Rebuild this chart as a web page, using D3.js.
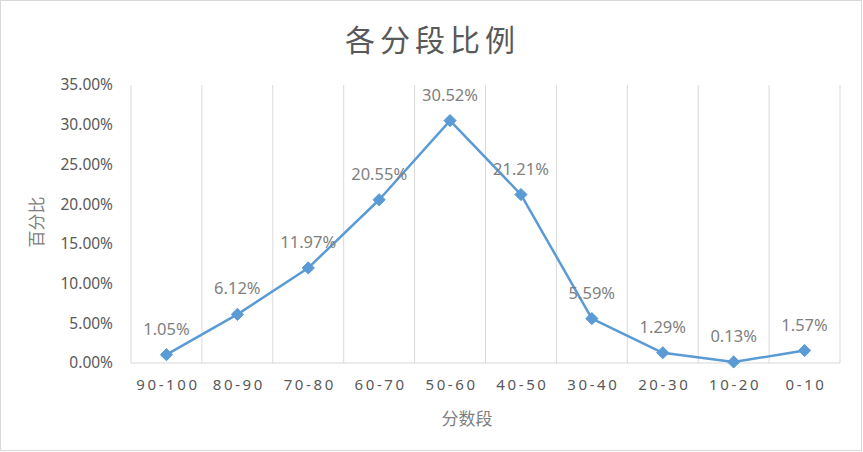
<!DOCTYPE html>
<html>
<head>
<meta charset="utf-8">
<script src="https://cdn.jsdelivr.net/npm/d3@7"></script>
<style>
  body { margin: 0; background: #fff; }
  svg { display: block; }
</style>
</head>
<body>
<svg id="chart" width="863" height="452"></svg>
<script>
// data
var categories = ["90-100", "80-90", "70-80", "60-70", "50-60", "40-50", "30-40", "20-30", "10-20", "0-10"];
var percents = [1.05, 6.12, 11.97, 20.55, 30.52, 21.21, 5.59, 1.29, 0.13, 1.57];
var yTicks = [0, 5, 10, 15, 20, 25, 30, 35];

var W = 863, H = 452;
var m = {left: 131, right: 23, top: 85, bottom: 89};

var svg = d3.select("#chart");

// outer border
svg.append("rect")
  .attr("x", 0.5).attr("y", 0.5)
  .attr("width", W - 2).attr("height", H - 2)
  .attr("fill", "#fff")
  .attr("stroke", "#d9d9d9");

var x = d3.scaleBand().domain(categories).range([m.left, W - m.right]);
var y = d3.scaleLinear().domain([0, 35]).range([H - m.bottom, m.top]);

// vertical gridlines at band edges
var edges = categories.map(function(c) { return x(c); }).concat([x.range()[1]]);
svg.append("g").selectAll("line")
  .data(edges)
  .enter().append("line")
  .attr("x1", function(d) { return d; }).attr("x2", function(d) { return d; })
  .attr("y1", y(35)).attr("y2", y(0))
  .attr("stroke", "#d9d9d9");

// bottom axis line
svg.append("line")
  .attr("x1", x.range()[0]).attr("x2", x.range()[1])
  .attr("y1", y(0)).attr("y2", y(0))
  .attr("stroke", "#d9d9d9");

// y axis labels
var yAxis = d3.axisLeft(y).tickValues(yTicks).tickSize(0).tickPadding(18)
  .tickFormat(function(d) { return d.toFixed(2) + "%"; });
var gy = svg.append("g").attr("transform", "translate(" + m.left + ",0)").call(yAxis);
gy.select(".domain").remove();
gy.selectAll("text")
  .attr("fill", "#595959")
  .style("font-family", "'Noto Sans', sans-serif")
  .style("font-size", "15.5px");

// x axis labels
var xAxis = d3.axisBottom(x).tickSize(0).tickPadding(16);
var gx = svg.append("g").attr("transform", "translate(0," + y(0) + ")").call(xAxis);
gx.select(".domain").remove();
gx.selectAll("text")
  .attr("fill", "#595959")
  .attr("dx", "1.5")
  .style("font-family", "'Noto Sans', sans-serif")
  .style("font-size", "15px")
  .style("letter-spacing", "2.6px");

// line
var line = d3.line()
  .x(function(d, i) { return x(categories[i]) + x.bandwidth() / 2; })
  .y(function(d) { return y(d); });

svg.append("path")
  .datum(percents)
  .attr("d", line)
  .attr("fill", "none")
  .attr("stroke", "#5b9bd5")
  .attr("stroke-width", 2.5)
  .attr("stroke-linejoin", "round");

// diamond markers
var diamond = d3.symbol().type(d3.symbolDiamond2).size(95);
svg.append("g").selectAll("path")
  .data(percents)
  .enter().append("path")
  .attr("d", diamond)
  .attr("transform", function(d, i) {
    return "translate(" + (x(categories[i]) + x.bandwidth() / 2) + "," + y(d) + ")";
  })
  .attr("fill", "#5b9bd5")
  .attr("stroke", "#5b9bd5")
  .attr("stroke-width", 1);

// data labels
svg.append("g").selectAll("text")
  .data(percents)
  .enter().append("text")
  .attr("x", function(d, i) { return x(categories[i]) + x.bandwidth() / 2; })
  .attr("y", function(d) { return y(d) - 20; })
  .attr("text-anchor", "middle")
  .attr("fill", "#7f7f7f")
  .style("font-family", "'Noto Sans', sans-serif")
  .style("font-size", "16.5px")
  .text(function(d) { return d.toFixed(2) + "%"; });

// title
svg.append("text")
  .attr("x", 430 + 2.5).attr("y", 51)
  .attr("text-anchor", "middle")
  .attr("fill", "#595959")
  .style("font-family", "'Noto Sans CJK SC', sans-serif")
  .style("font-size", "30px")
  .style("letter-spacing", "5px")
  .text("各分段比例");

// axis titles
svg.append("text")
  .attr("transform", "translate(43,222) rotate(-90)")
  .attr("text-anchor", "middle")
  .attr("fill", "#7f7f7f")
  .style("font-family", "'Noto Sans CJK SC', sans-serif")
  .style("font-size", "17px")
  .text("百分比");

svg.append("text")
  .attr("x", 467).attr("y", 425)
  .attr("text-anchor", "middle")
  .attr("fill", "#7f7f7f")
  .style("font-family", "'Noto Sans CJK SC', sans-serif")
  .style("font-size", "17px")
  .text("分数段");
</script>
</body>
</html>
